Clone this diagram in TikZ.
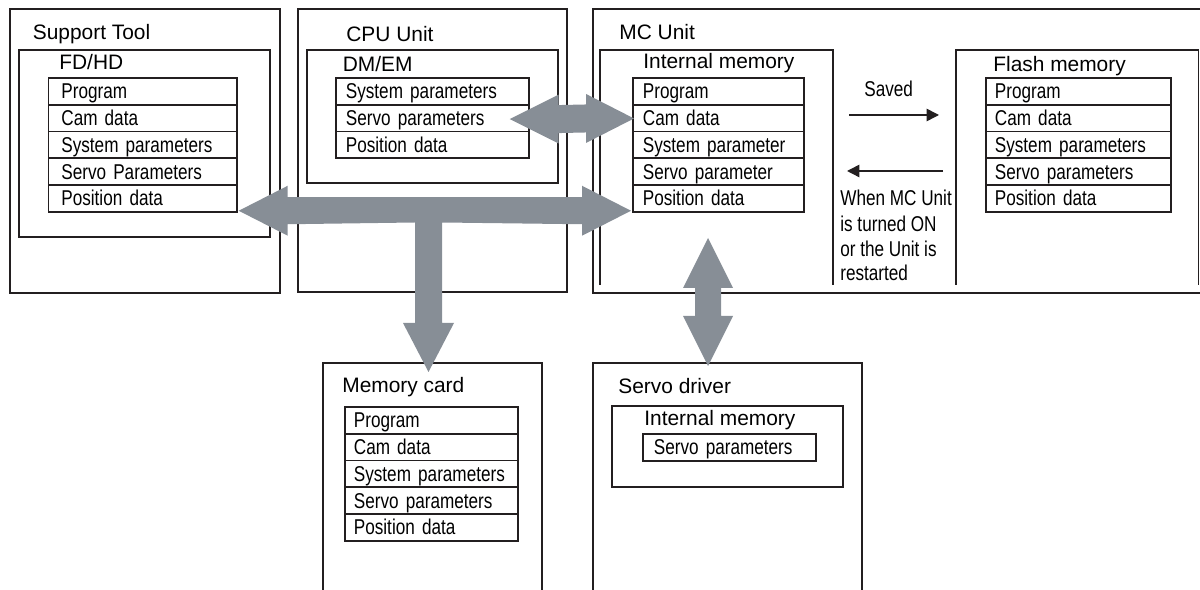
\documentclass[tikz,border=0pt]{standalone}
\usepackage{fontspec}
\setmainfont{Liberation Sans}
\newfontfamily\narrowfont[FakeStretch=0.8]{Liberation Sans}
\usetikzlibrary{calc,arrows.meta,fit}
\definecolor{arrowgrey}{RGB}{135,142,150}
\definecolor{ink}{RGB}{35,31,32}
\begin{document}
\begin{tikzpicture}[x=0.02cm,y=-0.02cm,
  frame/.style={draw=ink, line width=0.6pt, inner sep=0pt},
  membox/.style={draw=ink, line width=0.85pt, inner sep=0pt},
  head/.style={anchor=base west, inner sep=0pt, font=\fontsize{11.9pt}{14pt}\selectfont},
  note/.style={anchor=base west, inner sep=0pt, font=\narrowfont\fontsize{12.2pt}{14pt}\selectfont},
  item/.style={draw=ink, line width=1pt, anchor=north west, inner xsep=0.2cm, inner ysep=0pt,
    minimum height=0.536cm, text height=0.35cm, text depth=0.05cm, align=left,
    font=\narrowfont\fontsize{12.2pt}{14pt}\selectfont},
  bigarrow/.style={fill=arrowgrey},
  thinarrow/.style={draw=ink, line width=0.85pt, -{Triangle[length=7pt,width=7pt]}}
]
\useasboundingbox (0,0) rectangle (1200,590);

% outer frames
\node[frame, fit={(10,9) (280,293)}] (support) {};
\node[frame, fit={(298,9) (567,292)}] (cpu) {};
\node[frame, fit={(593,9) (1210,293)}] (mc) {};
\node[frame, fit={(323,363) (542,620)}] (mcard) {};
\node[frame, fit={(593,363) (862,620)}] (servo) {};

% memory boxes
\node[membox, fit={(19,50) (270,237)}] (fdhd) {};
\node[membox, fit={(307,50) (558,183)}] (dmem) {};
\node[membox, fit={(612,406) (843,487)}] (svmem) {};
\draw[membox] (600,285) |- (833,50) -- (833,285);
\draw[membox] (956,285) |- (1198.5,50) -- (1198.5,285);

% headings
\node[head] (hst) at (32.5,40) {Support Tool};
\node[head] (hfd) at (59,70) {FD/HD};
\node[head] (hcpu) at (346,42) {CPU Unit};
\node[head] (hdm) at (342.5,72) {DM/EM};
\node[head] (hmc) at (619,40) {MC Unit};
\node[head] (hint) at (643,69) {Internal memory};
\node[head] (hfl) at (993,72) {Flash memory};
\node[head] (hmcard) at (342,393) {Memory card};
\node[head] (hsv) at (618,394) {Servo driver};
\node[head] (hsvint) at (644,426) {Internal memory};

% data lists
\foreach \t [count=\i] in {Program, Cam data, System parameters, Servo Parameters, Position data}
  \node[item, inner xsep=0.26cm, text width=3.25cm] (st\i) at (47.5,{77+26.8*(\i-1)}) {\t};
\foreach \t [count=\i] in {System parameters, Servo parameters, Position data}
  \node[item, text width=3.46cm] (cpu\i) at (335,{77+26.8*(\i-1)}) {\t};
\foreach \t [count=\i] in {Program, Cam data, System parameter, Servo parameter, Position data}
  \node[item, text width=3.02cm] (mc\i) at (632,{77+26.8*(\i-1)}) {\t};
\foreach \t [count=\i] in {Program, Cam data, System parameters, Servo parameters, Position data}
  \node[item, inner xsep=0.18cm, text width=3.34cm] (fl\i) at (985,{77+26.8*(\i-1)}) {\t};
\foreach \t [count=\i] in {Program, Cam data, System parameters, Servo parameters, Position data}
  \node[item, inner xsep=0.18cm, text width=3.1cm] (mcd\i) at (344,{406+26.8*(\i-1)}) {\t};
\node[item, inner xsep=0.22cm, text width=3.02cm] (sv1) at (642,433) {Servo parameters};

% saved / restored notes
\node[note] (saved) at (864,97) {Saved};
\node[note] (w1) at (840,206) {When MC Unit};
\node[note] (w2) at (840,232) {is turned ON};
\node[note] (w3) at (840,257) {or the Unit is};
\node[note] (w4) at (840,281) {restarted};
\coordinate (s1) at (849,115);
\coordinate (s2) at (939,115);
\coordinate (r1) at (943,171);
\coordinate (r2) at (847,171);
\draw[thinarrow] (s1) -- (s2);
\draw[thinarrow] (r1) -- (r2);

% big grey arrows
\coordinate (aL) at ($(st5.south east)+(1,-2)$);
\coordinate (aR) at ($(mc5.south west)+(-1,-2)$);
\coordinate (aD) at (428.5,372);
\fill[bigarrow] (aL) -- ++(49,-25) -- ++(0,11.5) -- ($(aR)+(-49,-13.5)$) -- ++(0,-11.5)
  -- (aR) -- ++(-49,25) -- ++(0,-11.5) -- ($(aD)+(13.5,-149.5)$) -- ++(0,100.5) -- ++(12,0)
  -- (aD) -- ++(-25.5,-49) -- ++(12,0) -- ++(0,-100.5) -- ($(aL)+(49,13.5)$) -- ++(0,11.5) -- cycle;

\coordinate (cL) at ($(cpu2.east)+(-20,1)$);
\coordinate (cR) at ($(mc2.west)+(2,0.4)$);
\fill[bigarrow] (cL) -- ++(49,-24.5) -- ++(0,10.5) -- ($(cR)+(-48,-14)$) -- ++(0,-10.5)
  -- (cR) -- ++(-48,24.5) -- ++(0,-10.5) -- ($(cL)+(49,14)$) -- ++(0,10.5) -- cycle;

\coordinate (uT) at (708,238);
\coordinate (uB) at (708,366);
\fill[bigarrow] (uT) -- ++(25,50) -- ++(-12,0) -- ($(uB)+(13,-50)$) -- ++(12,0)
  -- (uB) -- ++(-25,-50) -- ++(12,0) -- ($(uT)+(-13,50)$) -- ++(-12,0) -- cycle;
\end{tikzpicture}
\end{document}
